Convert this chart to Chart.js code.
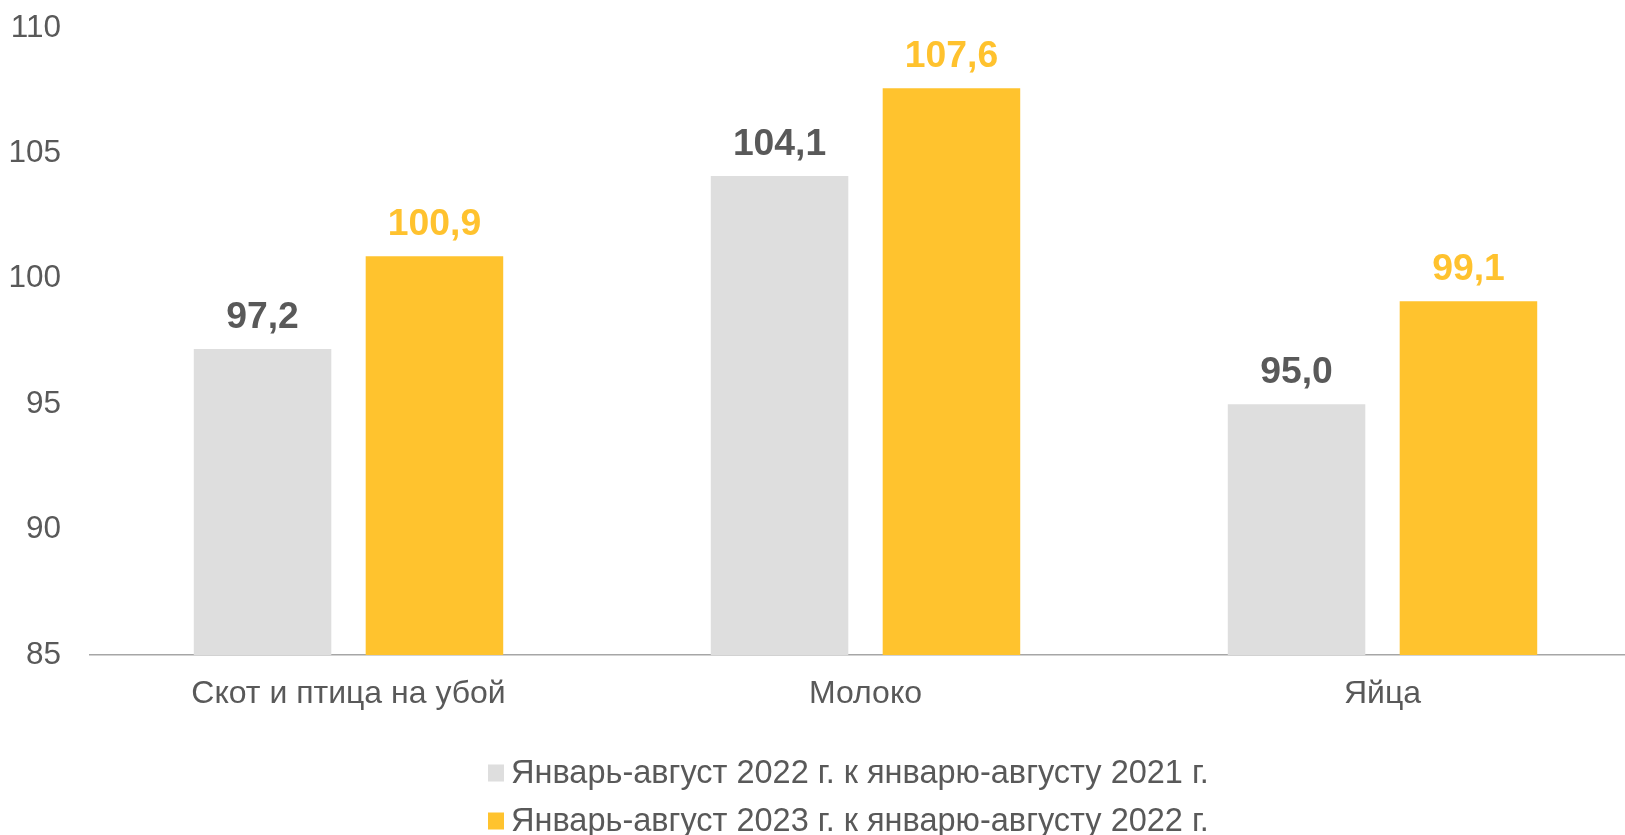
<!DOCTYPE html>
<html>
<head>
<meta charset="utf-8">
<script src="https://cdn.jsdelivr.net/npm/chart.js@4.4.1/dist/chart.umd.min.js"></script>
<style>
html,body{margin:0;padding:0;background:#fff;overflow:hidden;}
#wrap{width:1625px;height:835px;position:relative;overflow:hidden;}
#c{position:absolute;left:0;top:0;}
</style>
</head>
<body>
<div id="wrap"><canvas id="c" width="1641" height="835"></canvas></div>
<script>
const categories = ["Скот и птица на убой", "Молоко", "Яйца"];
const series2022 = [97.2, 104.1, 95.0];
const series2023 = [100.9, 107.6, 99.1];
const seriesNames = ["Январь-август 2022 г. к январю-августу 2021 г.", "Январь-август 2023 г. к январю-августу 2022 г."];
const yMin = 85, yMax = 110, yStep = 5;

const FONT = "'Liberation Sans', Arial, sans-serif";
const labelColors = ["#595959", "#FFC22E"];

const valueLabels = {
  id: 'valueLabels',
  afterDatasetsDraw(chart) {
    const ctx = chart.ctx;
    ctx.save();
    ctx.font = "bold 37.3px " + FONT;
    ctx.textAlign = 'center';
    ctx.textBaseline = 'alphabetic';
    chart.data.datasets.forEach((ds, i) => {
      const meta = chart.getDatasetMeta(i);
      ctx.fillStyle = labelColors[i];
      meta.data.forEach((bar, j) => {
        const txt = ds.data[j].toFixed(1).replace('.', ',');
        ctx.fillText(txt, bar.x, bar.y - 21);
      });
    });
    ctx.restore();
  }
};

const customLegend = {
  id: 'customLegend',
  afterDraw(chart) {
    const ctx = chart.ctx;
    ctx.save();
    ctx.font = "32.5px " + FONT;
    ctx.textBaseline = 'middle';
    ctx.textAlign = 'left';
    const rows = [773, 821];
    chart.data.datasets.forEach((ds, i) => {
      const y = rows[i];
      ctx.fillStyle = ds.backgroundColor;
      ctx.fillRect(488, y - 8.5, 16, 17);
      ctx.fillStyle = '#595959';
      ctx.fillText(ds.label, 511, y + 1);
    });
    ctx.restore();
  }
};

new Chart(document.getElementById('c'), {
  type: 'bar',
  data: {
    labels: categories,
    datasets: [
      { label: seriesNames[0], data: series2022, backgroundColor: '#DEDEDE' },
      { label: seriesNames[1], data: series2023, backgroundColor: '#FFC32E' }
    ]
  },
  options: {
    responsive: false,
    animation: false,
    devicePixelRatio: 1,
    categoryPercentage: 0.665,
    barPercentage: 0.8,
    layout: { autoPadding: false, padding: { top: 28, left: 10, right: 0, bottom: 0 } },
    plugins: {
      legend: { display: false },
      tooltip: { enabled: false }
    },
    scales: {
      x: {
        grid: { display: false, drawTicks: false },
        border: { display: true, color: '#A6A6A6', width: 1.5 },
        ticks: { color: '#595959', font: { family: FONT, size: 32 }, padding: 20 },
        afterFit(scale) { scale.height = 180; scale.paddingLeft = 0; scale.paddingRight = 0; }
      },
      y: {
        min: yMin, max: yMax,
        grid: { display: false, drawTicks: false },
        border: { display: false },
        ticks: { stepSize: yStep, color: '#595959', font: { family: FONT, size: 31.5 }, padding: 29 },
        afterFit(scale) { scale.width = 80; scale.paddingTop = 0; scale.paddingBottom = 0; }
      }
    }
  },
  plugins: [valueLabels, customLegend]
});
</script>
</body>
</html>
